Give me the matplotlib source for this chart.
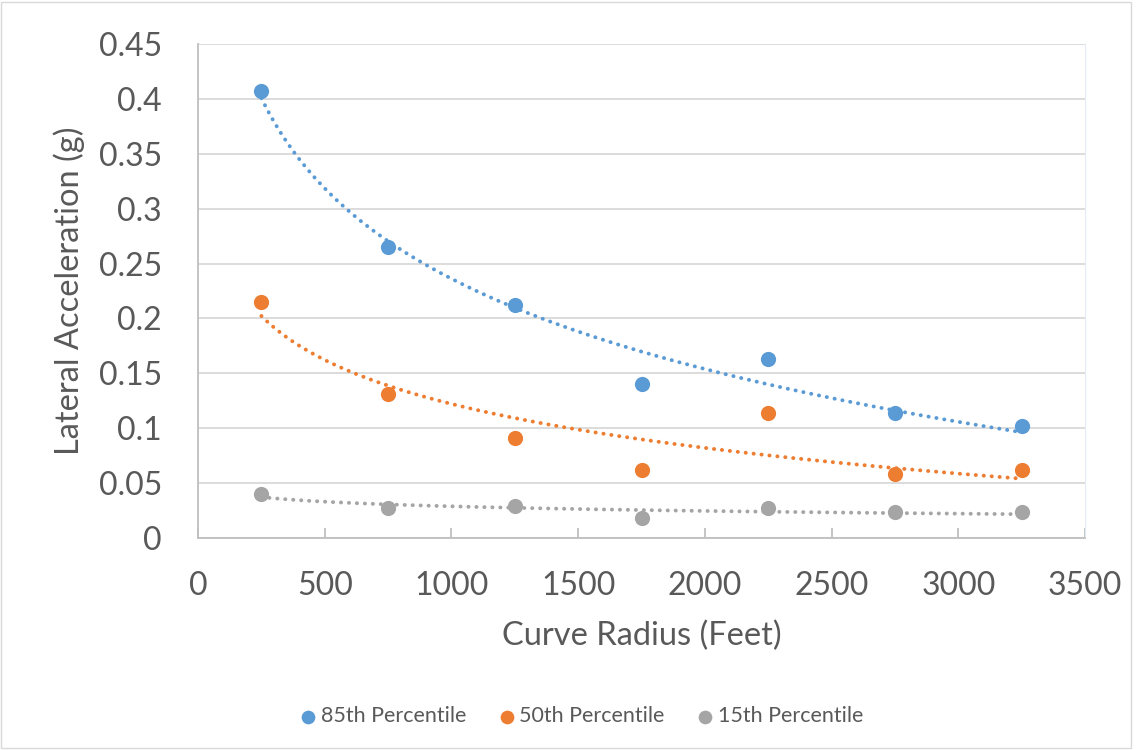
import matplotlib.pyplot as plt
import numpy as np
from matplotlib.patches import Rectangle

# data
radius = [250, 750, 1250, 1750, 2250, 2750, 3250]
p85 = [0.407, 0.265, 0.212, 0.140, 0.163, 0.114, 0.102]
p50 = [0.215, 0.131, 0.091, 0.062, 0.114, 0.058, 0.062]
p15 = [0.040, 0.027, 0.029, 0.018, 0.027, 0.024, 0.024]
names = ['85th Percentile', '50th Percentile', '15th Percentile']
colors = ['#5B9BD5', '#ED7D31', '#A5A5A5']

plt.rcParams['font.family'] = ['Lato', 'DejaVu Sans']

fig = plt.figure(figsize=(11.4, 7.5), dpi=100)
ax = fig.add_axes([0.1737, 0.2827, 0.9518 - 0.1737, 0.9413 - 0.2827])

x = np.array(radius, dtype=float)
xs = np.linspace(x.min(), x.max(), 200)
for vals, name, c in zip([p85, p50, p15], names, colors):
    y = np.array(vals)
    # logarithmic trendline, like Excel: y = a + b ln x
    b, a = np.polyfit(np.log(x), y, 1)
    ax.plot(xs, a + b * np.log(xs), color=c, lw=2.8,
            linestyle=(0, (0.05, 2.0)), dash_capstyle='round', zorder=2)
    ax.scatter(x, y, s=120, color=c, label=name, zorder=3, linewidths=0)

ax.set_xlim(0, 3500)
ax.set_ylim(0, 0.45)
ax.set_xticks(np.arange(0, 3501, 500))
ax.set_yticks(np.arange(0, 0.451, 0.05))
ax.set_yticklabels([f'{v:g}' for v in np.round(np.arange(0, 0.451, 0.05), 2)])

ax.grid(axis='y', color='#D9D9D9', lw=1.3)
ax.set_axisbelow(True)
ax.spines['top'].set_visible(False)
ax.spines['right'].set_color('#E3ECF6')
ax.spines['left'].set_color('#BFBFBF')
ax.spines['bottom'].set_color('#BFBFBF')
ax.spines['left'].set_linewidth(1.3)
ax.spines['bottom'].set_linewidth(1.3)

ax.tick_params(axis='y', length=0, labelsize=23, labelcolor='#595959', pad=26)
ax.tick_params(axis='x', direction='in', length=7.5, width=1.3, color='#BFBFBF',
               labelsize=23, labelcolor='#595959', pad=24)

ax.set_xlabel('Curve Radius (Feet)', fontsize=23.5, color='#595959', labelpad=14)
ax.set_ylabel('Lateral Acceleration (g)', fontsize=23.5, color='#595959', labelpad=10)

fig.legend(loc='center', bbox_to_anchor=(0.51, 0.045), ncol=3, frameon=False,
           fontsize=15.5, labelcolor='#595959', handlelength=0.8, handletextpad=0.2,
           columnspacing=1.45, markerscale=0.9)

fig.patches.append(Rectangle((0.001, 0.003), 0.991, 0.994, transform=fig.transFigure,
                             fill=False, edgecolor='#D9D9D9', lw=1))

fig.savefig('out.png', dpi=100, facecolor='white')
